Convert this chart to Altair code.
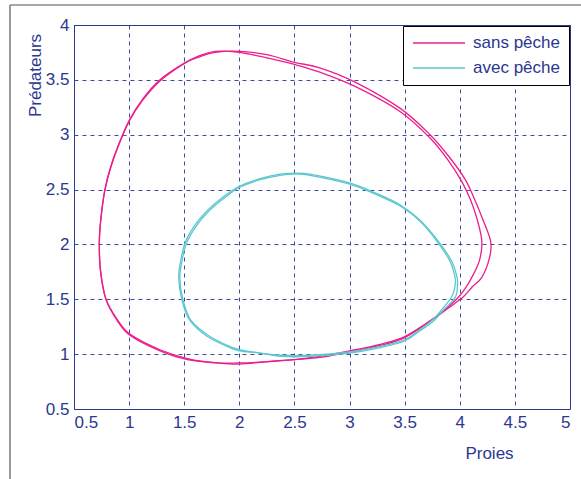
import altair as alt
import pandas as pd

# --- data (phase portraits, two traced cycles each) ---
series_names = ["sans pêche", "avec pêche"]
series_colors = ["#ec1e8c", "#5cc7d0"]

sans_x1 = [1.78, 2.00, 2.25, 2.50, 2.73, 3.05, 3.46, 3.73, 3.91, 4.05, 4.13, 4.20, 4.28, 4.27,
           4.20, 4.11, 4.03, 3.91, 3.76, 3.50, 3.28, 3.00, 2.73, 2.50, 2.23, 2.00, 1.80, 1.53,
           1.28, 1.01, 0.89, 0.79, 0.74, 0.73, 0.745, 0.78, 0.83, 0.90, 1.00, 1.12, 1.28, 1.50, 1.64]
sans_y1 = [3.75, 3.76, 3.73, 3.66, 3.61, 3.48, 3.24, 3.00, 2.79, 2.59, 2.42, 2.25, 2.03, 1.88,
           1.70, 1.61, 1.52, 1.43, 1.32, 1.15, 1.08, 1.02, 0.97, 0.95, 0.93, 0.91, 0.92, 0.95,
           1.03, 1.17, 1.31, 1.50, 1.77, 2.03, 2.25, 2.50, 2.70, 2.90, 3.13, 3.32, 3.50, 3.65, 3.71]

sans_x2 = [1.78, 2.00, 2.25, 2.50, 2.73, 3.05, 3.46, 3.73, 3.90, 4.02, 4.10, 4.16, 4.20, 4.18,
           4.12, 4.05, 3.97, 3.87, 3.74, 3.50, 3.28, 3.00, 2.73, 2.50, 2.23, 2.00, 1.80, 1.53,
           1.28, 1.01, 0.89, 0.79, 0.74, 0.73, 0.745, 0.78, 0.83, 0.90, 1.00, 1.12, 1.28, 1.50, 1.64]
sans_y2 = [3.76, 3.75, 3.70, 3.64, 3.57, 3.44, 3.21, 2.97, 2.76, 2.57, 2.40, 2.22, 2.03, 1.86,
           1.72, 1.60, 1.50, 1.41, 1.31, 1.16, 1.09, 1.03, 0.98, 0.95, 0.93, 0.92, 0.92, 0.96,
           1.04, 1.18, 1.32, 1.50, 1.76, 2.02, 2.24, 2.49, 2.69, 2.89, 3.12, 3.31, 3.49, 3.65, 3.72]

avec_x1 = [2.37, 2.50, 2.64, 3.00, 3.23, 3.46, 3.64, 3.82, 3.93, 3.97, 3.98, 3.96, 3.85, 3.76,
           3.62, 3.50, 3.28, 3.00, 2.64, 2.37, 2.19, 2.00, 1.89, 1.71, 1.55, 1.48, 1.45, 1.47,
           1.51, 1.60, 1.71, 1.85, 2.00, 2.19]
avec_y1 = [2.64, 2.65, 2.64, 2.56, 2.47, 2.36, 2.22, 2.01, 1.84, 1.72, 1.65, 1.52, 1.40, 1.30,
           1.20, 1.12, 1.06, 1.01, 0.98, 0.98, 1.01, 1.03, 1.07, 1.16, 1.31, 1.49, 1.70, 1.86,
           2.02, 2.18, 2.31, 2.43, 2.53, 2.60]

avec_x2 = [2.37, 2.50, 2.64, 3.00, 3.23, 3.46, 3.64, 3.80, 3.91, 3.95, 3.96, 3.93, 3.84, 3.75,
           3.62, 3.50, 3.28, 3.00, 2.64, 2.37, 2.19, 2.00, 1.89, 1.72, 1.56, 1.49, 1.46, 1.48,
           1.52, 1.61, 1.72, 1.86, 2.00, 2.19]
avec_y2 = [2.63, 2.64, 2.63, 2.55, 2.46, 2.35, 2.21, 2.02, 1.85, 1.73, 1.65, 1.53, 1.41, 1.31,
           1.21, 1.13, 1.07, 1.02, 0.99, 0.99, 1.01, 1.04, 1.08, 1.17, 1.31, 1.49, 1.69, 1.85,
           2.01, 2.17, 2.30, 2.42, 2.52, 2.59]

x_ticks = [0.5, 1, 1.5, 2, 2.5, 3, 3.5, 4, 4.5, 5]
y_ticks = [0.5, 1, 1.5, 2, 2.5, 3, 3.5, 4]


def frame(name, cycle, xs, ys):
    return pd.DataFrame({"serie": name, "cycle": f"{name}-{cycle}", "i": range(len(xs)),
                         "Proies": xs, "Predateurs": ys})


df_sans = pd.concat([frame(series_names[0], 1, sans_x1, sans_y1),
                     frame(series_names[0], 2, sans_x2, sans_y2)], ignore_index=True)
df_avec = pd.concat([frame(series_names[1], 1, avec_x1, avec_y1),
                     frame(series_names[1], 2, avec_x2, avec_y2)], ignore_index=True)

navy = "#2b388f"
FONT = "Liberation Sans"

xenc = alt.X("Proies:Q",
             scale=alt.Scale(domain=[0.5, 5], nice=False, zero=False),
             axis=alt.Axis(values=x_ticks, format=".1~f", title="Proies",
                           titleX=415, titleY=49, titleAlign="center",
                           titleBaseline="alphabetic", labelPadding=5))
yenc = alt.Y("Predateurs:Q",
             scale=alt.Scale(domain=[0.5, 4], nice=False, zero=False),
             axis=alt.Axis(values=y_ticks, format=".1~f", title="Prédateurs",
                           titleX=-34, titleY=50, titleAngle=270, titleAlign="center",
                           titleBaseline="alphabetic", labelPadding=5))
color = alt.Color("serie:N",
                  scale=alt.Scale(domain=series_names, range=series_colors),
                  legend=alt.Legend(title=None, orient="none", legendX=329, legendY=1,
                                    symbolType="stroke", symbolSize=2704,
                                    symbolStrokeWidth=1.5, labelOffset=7,
                                    labelFontSize=17, labelColor=navy, labelFont=FONT,
                                    padding=9, rowPadding=8, clipHeight=16,
                                    strokeColor="#000000", fillColor="#ffffff",
                                    cornerRadius=0))

sans = alt.Chart(df_sans).mark_line(strokeWidth=1.3, interpolate="cardinal-closed").encode(
    x=xenc, y=yenc, color=color, detail="cycle:N", order="i:Q")
avec = alt.Chart(df_avec).mark_line(strokeWidth=1.3, interpolate="cardinal-closed").encode(
    x=xenc, y=yenc, color=color, detail="cycle:N", order="i:Q")

one = alt.Data(values=[{"k": 1}])
frame_left = alt.Chart(one).mark_rule(color="#555555", strokeWidth=1.2).encode(
    x=alt.value(-64), y=alt.value(-20), y2=alt.value(460))
frame_top = alt.Chart(one).mark_rule(color="#888888", strokeWidth=1.6).encode(
    x=alt.value(-64), x2=alt.value(510), y=alt.value(-20))

chart = alt.layer(frame_left, frame_top, sans, avec).properties(
    width=496, height=384,
    autosize=alt.AutoSizeParams(type="none"),
    padding={"left": 74, "top": 25, "right": 11, "bottom": 70},
    background="#ffffff",
).configure(font=FONT).configure_view(
    stroke=navy, strokeWidth=1
).configure_axis(
    domain=False, ticks=False, grid=True, gridColor=navy, gridDash=[4, 4],
    gridWidth=1, gridOpacity=0.9, labelColor=navy, labelFontSize=17, labelFont=FONT,
    titleColor=navy, titleFontSize=17, titleFont=FONT, titleFontWeight="normal"
)

chart.save("out.html", embed_options={"renderer": "svg", "actions": False})
